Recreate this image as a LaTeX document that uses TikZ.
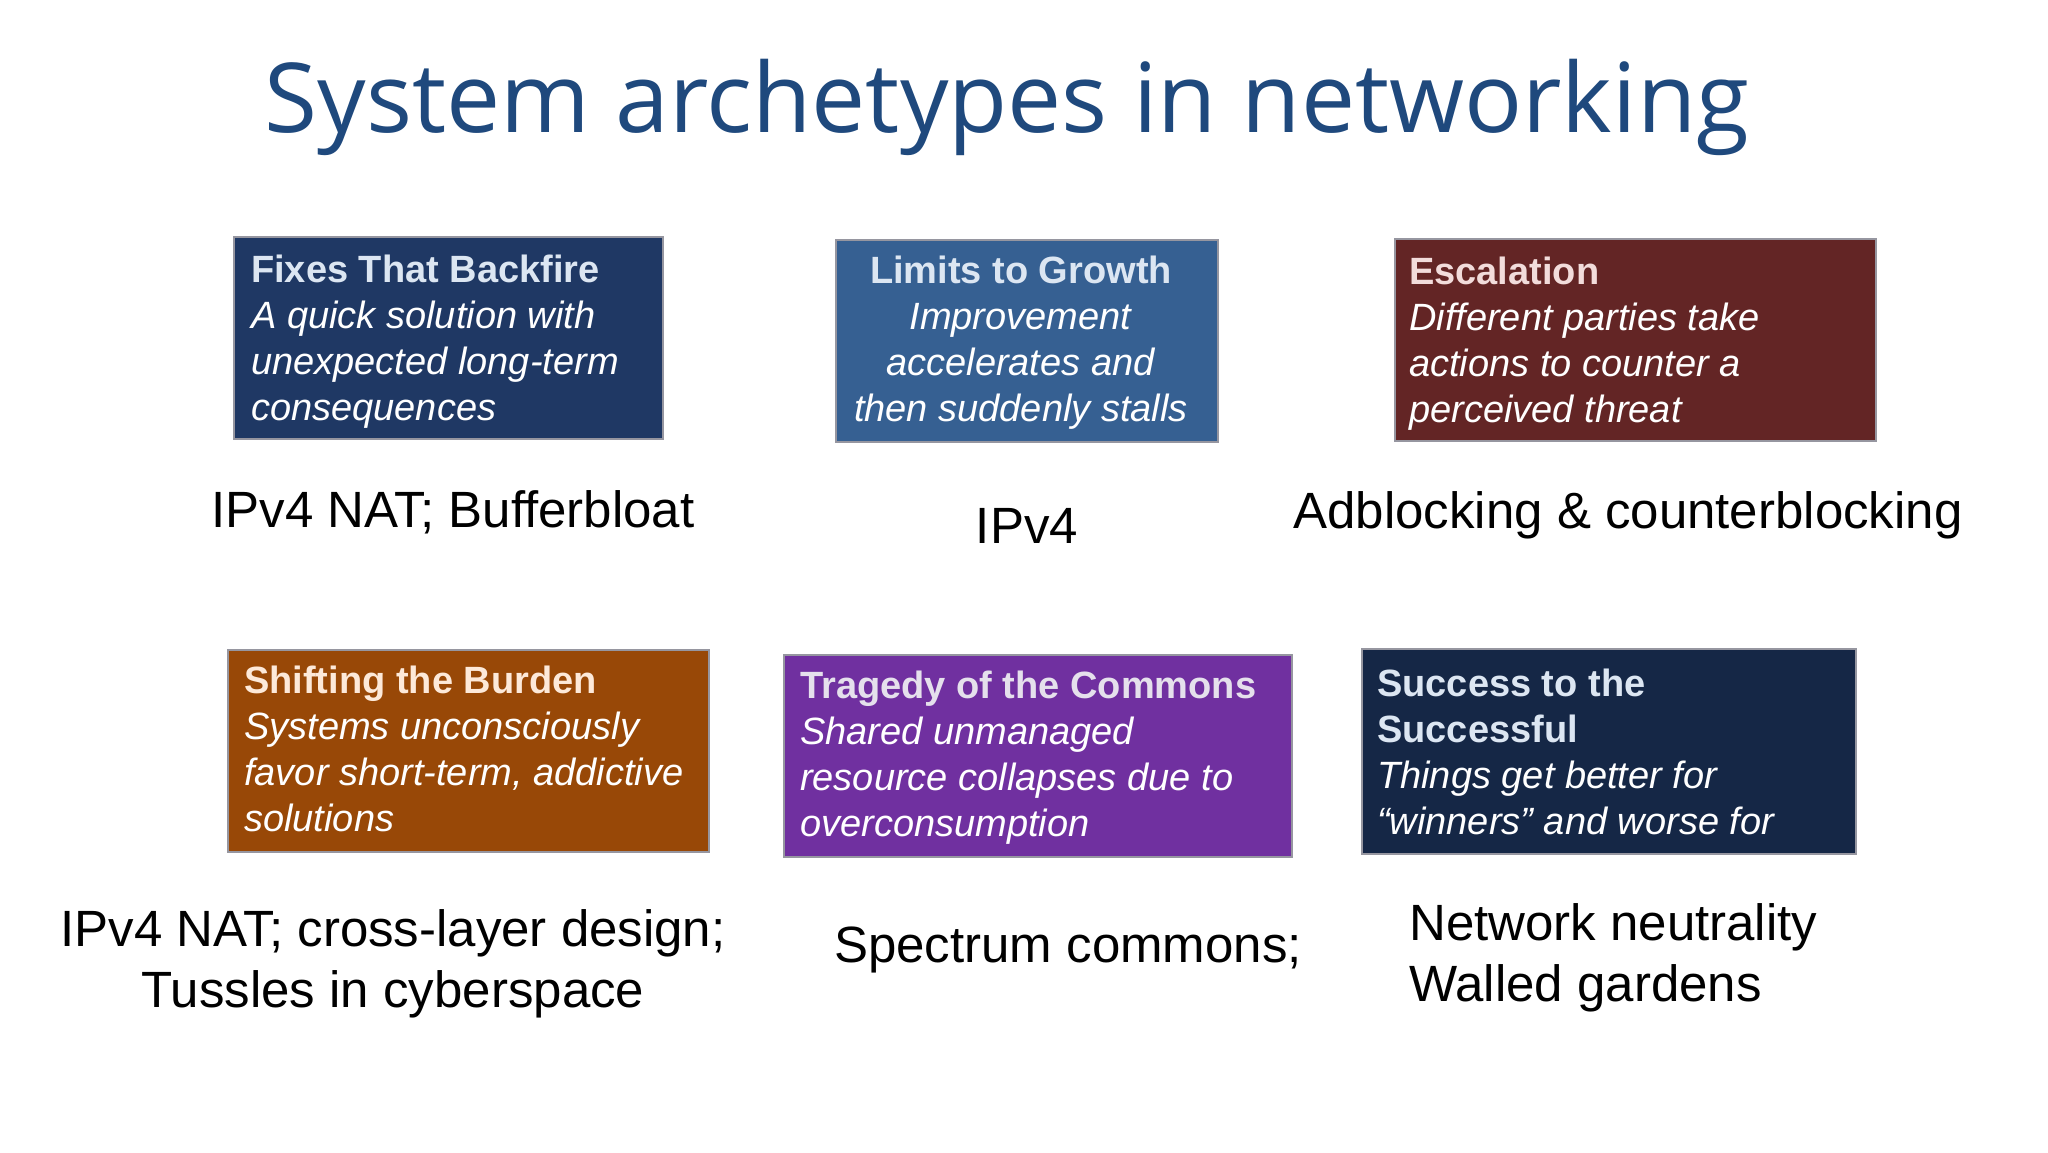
\documentclass[tikz,border=0pt]{standalone}
\usepackage{fontspec}
\setmainfont{Liberation Sans}
\newfontfamily\titlefont{Open Sans}
\definecolor{titleblue}{RGB}{31,73,125}
\definecolor{boxborder}{RGB}{150,150,160}
\definecolor{fixesfill}{RGB}{31,56,100}
\definecolor{limitsfill}{RGB}{54,96,146}
\definecolor{escfill}{RGB}{99,37,37}
\definecolor{shiftfill}{RGB}{152,72,7}
\definecolor{tragfill}{RGB}{112,48,160}
\definecolor{succfill}{RGB}{21,39,70}
\definecolor{bluetitle}{RGB}{220,230,242}
\definecolor{redtitle}{RGB}{242,220,219}
\definecolor{orangetitle}{RGB}{253,233,217}
\definecolor{purpletitle}{RGB}{229,224,236}
\tikzset{
  archbox/.style={draw=boxborder, line width=1.5pt, anchor=north west, inner sep=0pt},
  boxtext/.style={anchor=base west, inner sep=0pt, align=left, text=white,
    font=\fontsize{38}{46}\selectfont},
  boxtextc/.style={boxtext, anchor=base, align=center},
  example/.style={inner sep=0pt, anchor=base, align=center, text=black,
    font=\fontsize{51}{61}\selectfont},
}
\begin{document}
\begin{tikzpicture}[x=1pt,y=-1pt]
\useasboundingbox[fill=white] (0,0) rectangle (2048,1152);

\node[inner sep=0pt, anchor=base, text=titleblue,
  font=\titlefont\fontsize{96.5}{116}\selectfont] (title) at (1007,132)
  {System archetypes in networking};

% top row boxes
\node[archbox, fill=fixesfill, minimum width=429pt, minimum height=202pt] (fixes) at (233,236) {};
\node[archbox, fill=limitsfill, minimum width=382pt, minimum height=202pt] (limits) at (835,239) {};
\node[archbox, fill=escfill, minimum width=481pt, minimum height=202pt] (esc) at (1394,238) {};
% bottom row boxes
\node[archbox, fill=shiftfill, minimum width=481pt, minimum height=202pt] (shift) at (227,649) {};
\node[archbox, fill=tragfill, minimum width=508pt, minimum height=202pt] (trag) at (783,654) {};
\node[archbox, fill=succfill, minimum width=494pt, minimum height=205pt] (succ) at (1361,648) {};

% box texts (anchored at the baseline of the last line)
\node[boxtext] (fixestxt) at (251,420)
  {{\bfseries\color{bluetitle}Fixes That Backfire}\\
   \textit{A quick solution with}\\
   \textit{unexpected long-term}\\
   \textit{consequences}};
\node[boxtextc] (limitstxt) at (1021,421)
  {{\bfseries\color{bluetitle}Limits to Growth}\\
   \textit{Improvement}\\
   \textit{accelerates and}\\
   \textit{then suddenly stalls}};
\node[boxtext] (esctxt) at (1409,422)
  {{\bfseries\color{redtitle}Escalation}\\
   \textit{Different parties take}\\
   \textit{actions to counter a}\\
   \textit{perceived threat}};
\node[boxtext] (shifttxt) at (244,831)
  {{\bfseries\color{orangetitle}Shifting the Burden}\\
   \textit{Systems unconsciously}\\
   \textit{favor short-term, addictive}\\
   \textit{solutions}};
\node[boxtext] (tragtxt) at (800,836)
  {{\bfseries\color{purpletitle}Tragedy of the Commons}\\
   \textit{Shared unmanaged}\\
   \textit{resource collapses due to}\\
   \textit{overconsumption}};
\node[boxtext] (succtxt) at (1377,834)
  {{\bfseries\color{bluetitle}Success to the}\\
   {\bfseries\color{bluetitle}Successful}\\
   \textit{Things get better for}\\
   \textit{“winners” and worse for}};

% examples (anchored at the baseline of the last line)
\node[example] (ex1) at (453,527) {IPv4 NAT; Bufferbloat};
\node[example] (ex2) at (1027,543) {IPv4};
\node[example] (ex3) at (1628,528) {Adblocking \& counterblocking};
\node[example] (ex4) at (393,1007) {IPv4 NAT; cross-layer design;\\Tussles in cyberspace};
\node[example] (ex5) at (1068,962) {Spectrum commons;};
\node[example, anchor=base west, align=left] (ex6) at (1409,1001) {Network neutrality\\Walled gardens};
\end{tikzpicture}
\end{document}
